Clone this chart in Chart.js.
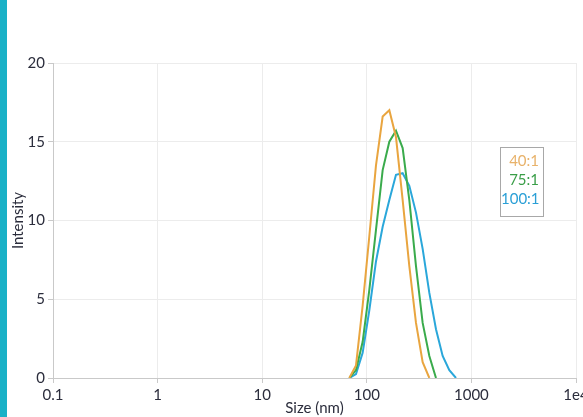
<!DOCTYPE html>
<html>
<head>
<meta charset="utf-8">
<script src="https://cdn.jsdelivr.net/npm/chart.js@4/dist/chart.umd.min.js"></script>
<style>
  html, body { margin: 0; padding: 0; background: #fff; }
  #wrap { position: relative; width: 583px; height: 417px; overflow: hidden; }
  #bar { position: absolute; left: 0; top: 0; width: 7px; height: 417px; background: #19b1c7; }
  #legend {
    position: absolute; left: 500px; top: 147px; width: 38px; height: 63px;
    border: 1px solid #a8a8a8; padding: 3px 4px 2px 0;
    font: 15px Lato, sans-serif; line-height: 19px; text-align: right;
  }
</style>
</head>
<body>
<div id="wrap">
  <canvas id="dls" width="600" height="417"></canvas>
  <div id="bar"></div>
  <div id="legend"></div>
</div>
<script>
// size classes (nm) and intensity (%) per sample
const sizes = [68.06, 78.82, 91.28, 105.7, 122.4, 141.8, 164.2, 190.1, 220.2, 255.0, 295.3, 342.0, 396.1, 458.7, 531.2, 615.1, 712.4];
const ratio40 = [0, 0.8, 4.6, 9.0, 13.5, 16.6, 17.0, 15.3, 11.3, 7.1, 3.5, 1.0, 0, null, null, null, null];
const ratio75 = [0, 0.5, 2.3, 5.6, 9.4, 13.2, 15.0, 15.7, 14.6, 11.3, 7.1, 3.5, 1.4, 0, null, null, null];
const ratio100 = [0, 0.25, 1.6, 4.3, 7.4, 9.6, 11.3, 12.9, 13.0, 12.2, 10.5, 8.2, 5.4, 3.1, 1.4, 0.5, 0];

const xTicks = [0.1, 1, 10, 100, 1000, 10000];
const xTickLabels = ['0.1', '1', '10', '100', '1000', '1e4'];

const series = [
  { label: '40:1', values: ratio40, color: '#e9a53f', text: '#e8b26a' },
  { label: '75:1', values: ratio75, color: '#3aab4c', text: '#3a9e48' },
  { label: '100:1', values: ratio100, color: '#2aa7da', text: '#2a9fd6' }
];

const font = { family: 'Lato', size: 15 };
const textColor = '#2b2d3c';

const ctx = document.getElementById('dls').getContext('2d');
const chart = new Chart(ctx, {
  type: 'line',
  data: {
    datasets: series.map(s => ({
      label: s.label,
      data: sizes.map((x, i) => ({ x: x, y: s.values[i] })),
      borderColor: s.color,
      borderWidth: 2,
      pointRadius: 0,
      fill: false,
      tension: 0
    }))
  },
  options: {
    responsive: false,
    animation: false,
    layout: { padding: { top: 63, right: 24, left: 0, bottom: 0 } },
    plugins: { legend: { display: false }, tooltip: { enabled: false } },
    scales: {
      x: {
        type: 'logarithmic',
        min: 0.1,
        max: 10000,
        afterBuildTicks: axis => { axis.ticks = xTicks.map(v => ({ value: v })); },
        afterFit: axis => { axis.height = 39; },
        ticks: {
          font: font, color: textColor, padding: 3, maxRotation: 0, autoSkip: false,
          callback: (v) => xTickLabels[xTicks.indexOf(v)]
        },
        grid: { color: '#ececec', tickColor: '#c9c9c9', tickLength: 5 },
        border: { color: '#c9c9c9' },
        title: { display: true, text: 'Size (nm)', font: font, color: textColor, padding: { top: 0, bottom: 0 } }
      },
      y: {
        min: 0,
        max: 20,
        afterFit: axis => { axis.width = 53; },
        ticks: { stepSize: 5, font: font, color: textColor, padding: 3 },
        grid: { color: '#ececec', tickColor: '#c9c9c9', tickLength: 5 },
        border: { color: '#c9c9c9' },
        title: { display: true, text: 'Intensity', font: font, color: textColor, padding: { top: 9, bottom: 0 } }
      }
    }
  }
});

const legend = document.getElementById('legend');
series.forEach(s => {
  const row = document.createElement('div');
  row.textContent = s.label;
  row.style.color = s.text;
  legend.appendChild(row);
});
</script>
</body>
</html>
